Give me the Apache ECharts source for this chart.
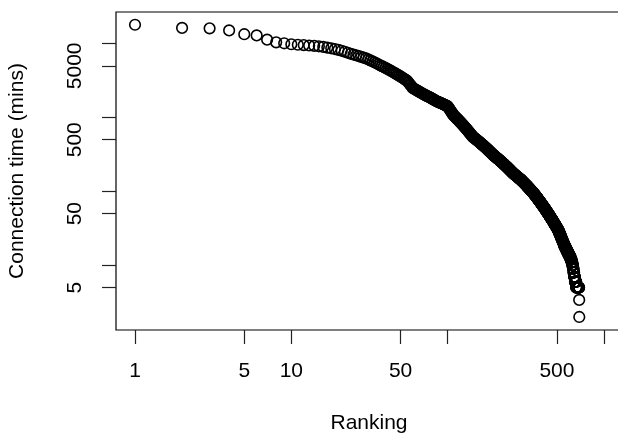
<!DOCTYPE html>
<html>
<head>
<meta charset="utf-8">
<script src="https://cdn.jsdelivr.net/npm/echarts@6/dist/echarts.min.js"></script>
<style>
  html, body { margin: 0; padding: 0; background: #fff; }
  #chart { width: 618px; height: 441px; }
</style>
</head>
<body>
<div id="chart"></div>
<script>
// Connection time (minutes) for each user, in ranking order (rank = index + 1)
const connectionMinutes = [
  18000,16300,16100,15100,13400,12900,11300,10400,10100,9800,
  9650,9550,9430,9320,9200,9020,8830,8640,8440,8240,
  7990,7745,7510,7280,7110,6945,6785,6625,6470,6320,
  6130,5940,5760,5590,5420,5250,5090,4950,4820,4690,
  4560,4440,4320,4200,4090,3985,3880,3780,3680,3585,
  3490,3400,3310,3225,3140,3000,2860,2730,2610,2490,
  2445,2400,2355,2310,2270,2225,2185,2145,2110,2070,
  2040,2010,1980,1950,1925,1895,1870,1840,1815,1785,
  1760,1735,1710,1685,1660,1643,1626,1609,1592,1576,
  1560,1544,1528,1512,1496,1481,1465,1450,1435,1420,
  1377,1335,1294,1255,1217,1180,1144,1109,1075,1055,
  1035,1016,997,979,960,943,925,908,891,874,
  858,842,826,811,796,781,767,752,738,725,
  711,698,685,672,660,647,635,624,612,600,
  589,578,568,557,547,541,535,529,523,517,
  512,506,500,495,489,484,478,473,468,463,
  457,452,447,442,437,433,428,423,419,414,
  409,405,400,396,392,387,383,379,375,370,
  366,362,358,354,350,347,343,339,335,331,
  328,324,321,317,314,310,307,305,302,300,
  297,294,292,290,287,285,282,280,277,275,
  273,270,268,266,264,261,259,257,255,253,
  250,248,246,244,242,240,238,236,234,232,
  230,228,226,224,222,220,219,217,215,213,
  211,209,208,206,204,202,201,199,197,196,
  194,192,191,189,187,186,184,183,181,180,
  178,177,175,174,173,172,171,170,168,167,
  166,165,164,163,162,161,160,159,158,157,
  156,155,154,153,152,151,150,149,148,148,
  147,146,145,144,143,142,141,140,139,138,
  137,136,135,134,133,132,131,131,130,129,
  128,127,126,125,124,123,123,122,121,120,
  119,118,118,117,116,115,114,113,113,112,
  111,110,110,109,108,107,107,106,105,104,
  104,103,102,101,101,100,99,99,98,97,
  97,96,95,95,94,93,93,92,91,91,
  90,89,89,88,87,87,86,85,85,84,
  83,83,82,82,81,80,80,79,79,78,
  77,77,76,76,75,75,74,74,73,72,
  72,71,71,70,70,69,69,68,68,67,
  67,66,66,65,65,64,64,63,63,62,
  62,62,61,61,60,60,59,59,58,58,
  58,57,57,56,56,55,55,55,54,54,
  53,53,53,52,52,51,51,51,50,50,
  50,49,49,49,48,48,48,47,47,46,
  46,46,45,45,45,44,44,44,43,43,
  43,43,42,42,42,41,41,41,40,40,
  40,40,39,39,39,38,38,38,38,37,
  37,37,36,36,36,36,35,35,35,35,
  34,34,34,34,33,33,33,33,32,32,
  32,32,32,31,31,31,31,30,30,30,
  30,29,29,29,29,28,28,28,27,27,
  27,27,26,26,26,26,25,25,25,25,
  24,24,24,24,23,23,23,23,22,22,
  22,22,22,21,21,21,21,21,20,20,
  20,20,20,19,19,19,19,19,18,18,
  18,18,18,18,18,18,17,17,17,17,
  17,17,17,17,16,16,16,16,16,16,
  16,16,15,15,15,15,15,15,15,15,
  15,14,14,14,14,14,14,14,14,14,
  14,13,13,13,13,13,13,13,13,13,
  13,12,12,12,12,12,12,12,12,12,
  11,11,11,11,11,11,11,10,10,10,
  10,10,10,9,9,9,9,9,8,8,
  8,8,8,8,7,7,7,7,7,7,
  7,6,6,6,6,6,6,6,6,6,
  6,6,6,6,5,5,5,5,5,5,
  5,5,5,5,5,5,5,5,5,5,
  5,5,5,5,5,5,5,5,5,5,
  5,5,5,3.4,2
];

// Axis ticks and labels
const xTickValues  = [1, 5, 10, 50, 100, 500, 1000];
const xLabelValues = [1, 5, 10, 50, 500];
const yTickValues  = [5, 10, 50, 100, 500, 1000, 5000, 10000];
const yLabelValues = [5, 50, 500, 5000];

const xTitle = 'Ranking';
const yTitle = 'Connection time (mins)';

const points = connectionMinutes.map((v, i) => [i + 1, v]);

const FONT = "'Liberation Sans', Arial, Helvetica, sans-serif";
const chart = echarts.init(document.getElementById('chart'), null, { renderer: 'canvas' });

chart.setOption({
  animation: false,
  backgroundColor: '#ffffff',
  grid: {
    left: 116, top: 12, width: 506, height: 318,
    outerBoundsMode: 'none',
    containLabel: false,
    show: true, borderColor: '#000', borderWidth: 1.2, backgroundColor: 'transparent'
  },
  xAxis: {
    type: 'log', logBase: 10,
    min: 0.7557, max: 1304,
    name: xTitle, nameLocation: 'middle', nameGap: 83,
    nameTextStyle: { fontFamily: FONT, fontSize: 21, color: '#000' },
    axisLine: { show: false },
    splitLine: { show: false },
    minorTick: { show: false },
    axisTick: { show: true, inside: false, length: 14, customValues: xTickValues,
                lineStyle: { color: '#222', width: 1.2 } },
    axisLabel: { show: true, margin: 31, customValues: xLabelValues,
                 fontFamily: FONT, fontSize: 21, color: '#000',
                 formatter: v => String(Math.round(v)) }
  },
  yAxis: {
    type: 'log', logBase: 10,
    min: 1.332, max: 26770,
    name: yTitle, nameLocation: 'middle', nameGap: 88,
    nameTextStyle: { fontFamily: FONT, fontSize: 21, color: '#000' },
    axisLine: { show: false },
    splitLine: { show: false },
    minorTick: { show: false },
    axisTick: { show: true, inside: false, length: 14, customValues: yTickValues,
                lineStyle: { color: '#222', width: 1.2 } },
    axisLabel: { show: true, margin: 30, rotate: 90, customValues: yLabelValues,
                 fontFamily: FONT, fontSize: 21, color: '#000',
                 formatter: v => String(Math.round(v)) }
  },
  series: [{
    type: 'scatter',
    data: points,
    symbol: 'circle',
    symbolSize: 10.6,
    itemStyle: { color: 'rgba(0,0,0,0)', borderColor: '#000', borderWidth: 1.6, opacity: 1 },
    emphasis: { disabled: true },
    silent: true
  }]
});
</script>
</body>
</html>
